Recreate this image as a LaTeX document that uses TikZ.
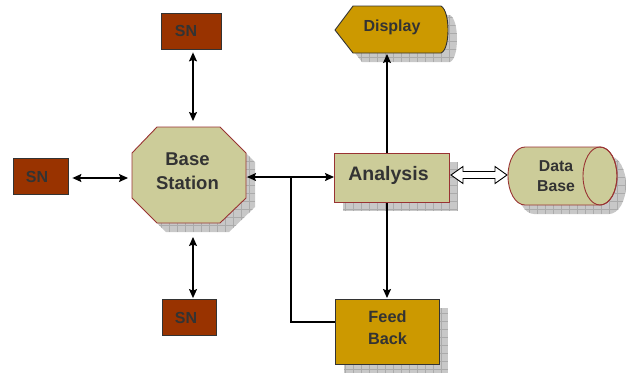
\documentclass[tikz,border=0pt]{standalone}
\usepackage{fontspec}
\setmainfont{Liberation Sans}
\usetikzlibrary{arrows.meta,calc}

\definecolor{snbrown}{HTML}{993300}
\definecolor{khaki}{HTML}{CCCC99}
\definecolor{gold}{HTML}{CC9900}
\definecolor{redline}{HTML}{993333}
\definecolor{txt}{HTML}{333333}
\definecolor{shadowgray}{HTML}{C8C8C8}
\definecolor{shadowline}{HTML}{ABABAB}

\begin{document}
\begin{tikzpicture}[x=1pt,y=-1pt,
  geom/.style={inner sep=0pt, outer sep=0pt},
  txtnode/.style={text=txt, align=center, inner sep=0pt, font=\bfseries},
  snbox/.style={draw=txt, line width=0.8pt, fill=snbrown, inner sep=0pt,
    minimum width=#1, minimum height=36pt},
  shadowfill/.style={fill=shadowgray,
    path picture={\draw[shadowline, line width=0.35pt, step=8pt]
      (path picture bounding box.south west) grid (path picture bounding box.north east);}},
  conn/.style={line width=1.2pt, black},
  tip/.style={-{Stealth[length=9pt,width=8pt,inset=1.5pt]}},
  bitip/.style={{Stealth[length=9pt,width=8pt,inset=1.5pt]}-{Stealth[length=9pt,width=8pt,inset=1.5pt]}},
  redshape/.style={draw=redline, line width=0.9pt, fill=khaki},
  goldshape/.style={draw=txt, line width=0.9pt, fill=gold}
]
\useasboundingbox (0,0) rectangle (629,376);

% geometry of the main blocks
\node[geom, minimum width=114pt, minimum height=96pt] (bs) at (189,175) {};
\node[geom, minimum width=115pt, minimum height=49pt] (an) at (391.5,177.5) {};
\node[geom, minimum width=113pt, minimum height=47pt] (disp) at (391.5,29.5) {};
\node[geom, minimum width=104pt, minimum height=65pt] (fb) at (387,331.5) {};
\node[geom, minimum width=109pt, minimum height=58pt] (db) at (562.5,176) {};

% sensor nodes
\node[snbox=60pt] (snT) at (191,31) {};
\node[snbox=55pt] (snL) at (40.5,176) {};
\node[snbox=54pt] (snB) at (189,317.5) {};

% drop shadows
\begin{scope}[shift={(9,9)}]
  \path[shadowfill] (157,127) -- (220,127) -- (246,153) -- (246,198) -- (220,223)
    -- (157,223) -- (132,198) -- (132,153) -- cycle;
  \path[shadowfill] (334,153) rectangle (449,202);
  \path[shadowfill] (335,30) -- (353,6) -- (441,6) .. controls (446,9) and (448,20) .. (448,30)
    .. controls (448,40) and (446,51) .. (441,53) -- (353,53) -- cycle;
  \path[shadowfill] (335,299) rectangle (439,364);
  \path[shadowfill] (600,147) -- (525,147) .. controls (515.6,147) and (508,160) .. (508,176)
    .. controls (508,192) and (515.6,205) .. (525,205) -- (600,205)
    .. controls (609.4,205) and (617,192) .. (617,176)
    .. controls (617,160) and (609.4,147) .. (600,147) -- cycle;
\end{scope}

% helper coordinates for the connector lines
\coordinate (axT) at (193,0);
\coordinate (ayL) at (0,178);
\coordinate (ayM) at (0,177);
\coordinate (jx) at (291,0);
\coordinate (fby) at (0,322);
\coordinate (vx) at (387,0);

% connectors
\draw[conn, bitip, shorten <=3pt, shorten >=6pt] (snT.south -| axT) -- (bs.north -| axT);
\draw[conn, bitip, shorten <=14pt, shorten >=1pt] (bs.south -| axT) -- (snB.north -| axT);
\draw[conn, bitip, shorten <=4pt, shorten >=4pt] (snL.east |- ayL) -- (bs.west |- ayL);
\draw[conn, bitip, shorten <=1pt] (bs.east |- ayM) -- (an.west |- ayM);
\draw[conn] (jx |- ayM) -- (jx |- fby) -- (fb.west |- fby);
\draw[conn, tip, shorten >=1pt] (an.north -| vx) -- (disp.south -| vx);
\draw[conn, tip, shorten >=1pt] (an.south -| vx) -- (fb.north -| vx);

% hollow double arrow between Analysis and Data Base
\coordinate (ha) at ($(an.east)+(2,-2.5)$);
\coordinate (hb) at ($(db.west)+(-1,-1)$);
\draw[line width=0.9pt, fill=white] (ha) -- ++(12,-8.5) -- ++(0,5)
  -- ($(hb)+(-12,-3.5)$) -- ++(0,-5) -- (hb) -- ++(-12,8.5) -- ++(0,-5)
  -- ($(ha)+(12,3.5)$) -- ++(0,5) -- cycle;

% block outlines
\draw[redshape] (157,127) -- (220,127) -- (246,153) -- (246,198) -- (220,223)
  -- (157,223) -- (132,198) -- (132,153) -- cycle;
\draw[redshape] (an.north west) rectangle (an.south east);
\draw[goldshape] (335,30) -- (353,6) -- (441,6) .. controls (446,9) and (448,20) .. (448,30)
  .. controls (448,40) and (446,51) .. (441,53) -- (353,53) -- cycle;
\draw[goldshape] (fb.north west) rectangle (fb.south east);
\draw[redshape] (600,147) -- (525,147) .. controls (515.6,147) and (508,160) .. (508,176)
  .. controls (508,192) and (515.6,205) .. (525,205) -- (600,205)
  .. controls (609.4,205) and (617,192) .. (617,176)
  .. controls (617,160) and (609.4,147) .. (600,147) -- cycle;
\draw[draw=redline, line width=0.9pt] (600,176) ellipse [x radius=17, y radius=29];

% labels
\node[txtnode, font=\bfseries\fontsize{18.5}{24}\selectfont] (bsT) at (187.5,171.5) {Base\\Station};
\node[txtnode, font=\bfseries\fontsize{19.5}{23}\selectfont, anchor=base] (anT) at (388.5,180.7) {Analysis};
\node[txtnode, font=\bfseries\fontsize{16}{20}\selectfont, anchor=base] (dispT) at (392,31.7) {Display};
\node[txtnode, font=\bfseries\fontsize{16.3}{22}\selectfont] (fbT) at (387.5,328) {Feed\\Back};
\node[txtnode, font=\bfseries\fontsize{15.8}{20}\selectfont] (dbT) at (556,175.7) {Data\\Base};
\node[txtnode, font=\bfseries\fontsize{16}{18}\selectfont] (snTT) at (186,31) {SN};
\node[txtnode, font=\bfseries\fontsize{16}{18}\selectfont] (snLT) at (37,177) {SN};
\node[txtnode, font=\bfseries\fontsize{16}{18}\selectfont] (snBT) at (186,318) {SN};
\end{tikzpicture}
\end{document}
